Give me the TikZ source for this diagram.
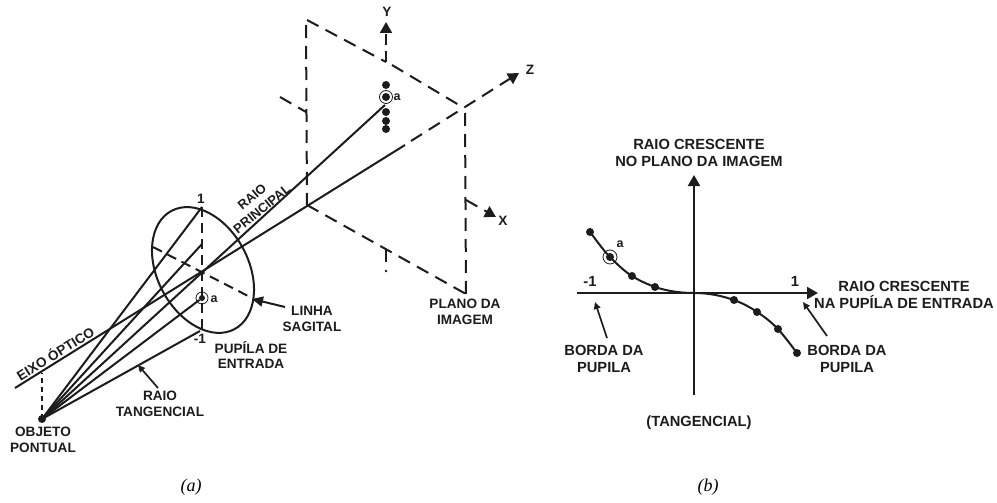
\documentclass[tikz,border=0pt]{standalone}
\usepackage{fontspec}
\setmainfont{Liberation Sans}
\newfontfamily\capfont{Liberation Serif}
\usetikzlibrary{arrows.meta}
\definecolor{ink}{HTML}{1C1C1C}
\tikzset{
  ln/.style={line width=2pt,draw=ink},
  dsh/.style={line width=2pt,draw=ink,dash pattern=on 13pt off 8pt},
  thindash/.style={line width=2pt,draw=ink,dash pattern=on 10pt off 6pt},
  arr/.style={line width=2pt,draw=ink,-{Triangle[length=11pt,width=12pt]}},
  sarr/.style={line width=1.7pt,draw=ink,-{Triangle[length=7pt,width=6.5pt]}},
  lbl/.style={inner sep=0pt,align=center,text=ink,font=\fontsize{13.6}{15.5}\selectfont\bfseries},
  lblb/.style={inner sep=0pt,align=center,text=ink,font=\fontsize{14.7}{16.3}\selectfont\bfseries},
  small/.style={inner sep=0pt,text=ink,font=\fontsize{12.5}{14}\selectfont\bfseries},
  ptdot/.style={circle,fill=ink,inner sep=0pt,minimum size=8pt},
  ring/.style={circle,draw=ink,line width=0.8pt,inner sep=0pt},
  captxt/.style={inner sep=0pt,text=black,font=\fontsize{18}{20}\selectfont\capfont\itshape}
}
\begin{document}
\begin{tikzpicture}[x=1pt,y=-1pt]
\useasboundingbox (0,0) rectangle (997,503);
% --- part (a) coordinates
\coordinate (obj) at (42,419);
\coordinate (pt) at (202,207);
\coordinate (pm) at (202,244);
\coordinate (pb) at (202,332);
\coordinate (pc) at (203,270);
\coordinate (axs) at (15,388);
\coordinate (axe) at (405,145);
\coordinate (zo) at (464,108);
\coordinate (ztip) at (519,73);
\coordinate (ptl) at (307,20);
\coordinate (pbl) at (307,205);
\coordinate (pbr) at (466,294);
\coordinate (yb) at (386,62);
\coordinate (ytip) at (386,22);
\coordinate (xb) at (466,200);
\coordinate (xtip) at (496,217);
% image plane
\draw[dsh] (ptl) -- (yb);
\draw[dsh] (yb) ++(6,3) -- (zo);
\draw[dsh] (pbl) -- (pbr);
\draw[dsh] (306,25) -- (pbl);
\draw[dsh] (465,113) -- (pbr);
\draw[dsh] (280,97) -- (306,112);
\draw[line width=2pt,draw=ink] (386,250) -- (386,262);
\fill[ink] (386,271) circle (1.3pt);
\draw[arr,dash pattern=on 11pt off 6pt] (yb) -- (ytip);
\draw[arr,dash pattern=on 13pt off 8pt] (xb) -- (xtip);
\draw[arr,dash pattern=on 13pt off 8pt] (axe) ++(6,-4) -- (ztip);
% pupil
\draw[ln,rotate around={-62:(pc)}] (pc) ellipse [x radius=67,y radius=45.5];
\draw[thindash] (202,207) -- (pb);
\draw[thindash] (153,247) -- (250,297);
% image dots
\node[ptdot] (d1) at (386,85) {};
\node[ptdot] (da) at (386,97) {};
\node[ring,minimum size=13pt] (ra) at (386,97) {};
\node[ptdot] (d2) at (386,112) {};
\node[ptdot] (d3) at (386,121) {};
\node[ptdot] (d4) at (386,129) {};
\node[ptdot,minimum size=6pt] (pa) at (202,298) {};
\node[ring,minimum size=12pt] (rpa) at (202,298) {};
% rays
\draw[ln] (axs) -- (axe);
\draw[ln] (obj) -- (pt);
\draw[ln] (obj) -- (pm);
\draw[ln] (obj) -- (385,105);
\draw[ln] (obj) -- (pa);
\draw[ln] (obj) -- (200,331);
\draw[line width=2pt,draw=ink,dash pattern=on 5pt off 4pt] (obj) -- (42,373);
\node[ptdot] (objd) at (obj) {};
% arrows
\coordinate (sa) at (285,307); \coordinate (sb) at (252,299);
\draw[arr,-{Triangle[length=11pt,width=10pt]}] (sa) -- (sb);
\coordinate (ta) at (158,388); \coordinate (tb) at (138,365);
\draw[sarr] (ta) -- (tb);
% labels (a)
\node[lbl] (l1) at (201,199) {1};
\node[lbl] (lm1) at (200,339) {-1};
\node[small] (la1) at (397,97) {a};
\node[small] (la2) at (214,299) {a};
\node[lbl] (ly) at (387,12) {Y};
\node[lbl] (lz) at (530,70) {Z};
\node[lbl] (lx) at (503,221) {X};
\node[lbl,rotate=40,font=\fontsize{13}{15}\selectfont\bfseries] (lr1) at (252,197) {RAIO};
\node[lbl,rotate=39,font=\fontsize{13}{15}\selectfont\bfseries] (lr2) at (262,209) {PRINCIPAL};
\node[lbl,rotate=32] (le) at (55,353) {EIXO ÓPTICO};
\node[lbl] (lt) at (160,404) {RAIO\\TANGENCIAL};
\node[lbl] (lo) at (43,440) {OBJETO\\PONTUAL};
\node[lbl] (lp) at (251,355) {PUPÍLA DE\\ENTRADA};
\node[lbl] (ls) at (312,319) {LINHA\\SAGITAL};
\node[lbl] (li) at (465,312) {PLANO DA\\IMAGEM};
% --- part (b)
\coordinate (vb) at (694,395);
\coordinate (vt) at (694,175);
\coordinate (hl) at (577,293);
\coordinate (hr) at (818,293);
\draw[arr] (vb) -- (vt);
\draw[arr] (hl) -- (hr);
\node[ptdot] (c1) at (590,232) {};
\node[ptdot] (c2) at (610,257) {};
\node[ring,minimum size=14pt] (rc2) at (610,257) {};
\node[ptdot] (c3) at (632,276) {};
\node[ptdot] (c4) at (655,287) {};
\coordinate (c0) at (694,293);
\node[ptdot] (c5) at (734,300) {};
\node[ptdot] (c6) at (757,312) {};
\node[ptdot] (c7) at (778,329) {};
\node[ptdot] (c8) at (797,353) {};
\draw[ln,line join=round] (c1.center) .. controls (597,241) and (603,250) .. (c2.center)
  .. controls (617,264) and (624,271) .. (c3.center)
  .. controls (640,281) and (647,284) .. (c4.center)
  .. controls (667,291) and (680,293) .. (c0)
  .. controls (710,293) and (722,296) .. (c5.center)
  .. controls (742,303) and (750,307) .. (c6.center)
  .. controls (765,317) and (771,322) .. (c7.center)
  .. controls (785,337) and (791,345) .. (c8.center);
\coordinate (bla) at (607,338); \coordinate (blb) at (595,302);
\coordinate (bra) at (827,336); \coordinate (brb) at (803,302);
\draw[sarr] (bla) -- (blb);
\draw[sarr] (bra) -- (brb);
\node[small] (lba) at (620,244) {a};
\node[lblb] (lbm) at (590,281) {-1};
\node[lblb] (lbp) at (795,281) {1};
\node[lblb] (b1) at (699,153) {RAIO CRESCENTE\\NO PLANO DA IMAGEM};
\node[lblb] (b2) at (904,295) {RAIO CRESCENTE\\NA PUPÍLA DE ENTRADA};
\node[lblb] (b3) at (604,359) {BORDA DA\\PUPILA};
\node[lblb] (b4) at (847,359) {BORDA DA\\PUPILA};
\node[lblb] (b5) at (699,423) {(TANGENCIAL)};
\node[captxt] (ca) at (191,487) {(a)};
\node[captxt] (cb) at (708,487) {(b)};
\end{tikzpicture}
\end{document}
